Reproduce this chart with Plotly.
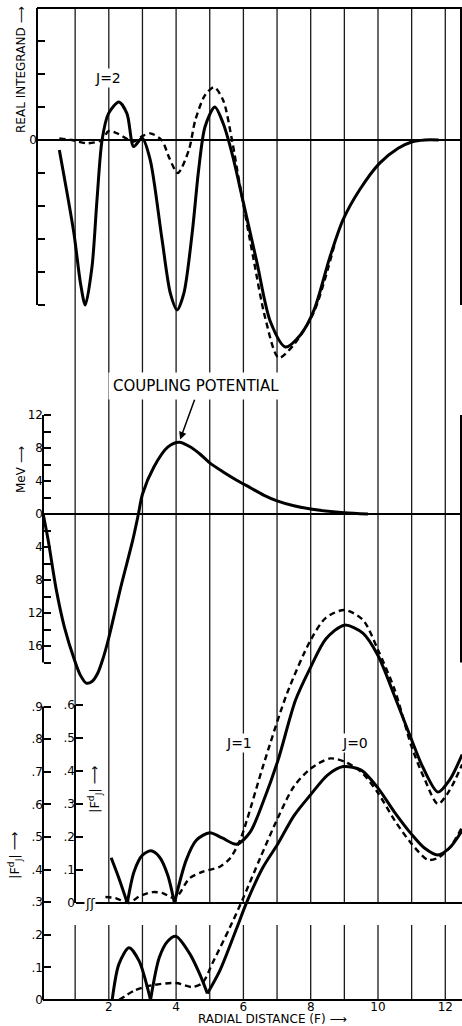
import plotly.graph_objects as go

# ---------------- data ----------------
# Top panel: real integrand, J=2 (arbitrary units, one tick = 1 unit)
top_solid_x = [0.53, 0.96, 1.16, 1.3, 1.5, 1.65, 1.8, 1.99, 2.3, 2.54, 2.74, 2.99, 3.23, 3.58,
               3.83, 4.03, 4.23, 4.48, 4.67, 4.86, 5.15, 5.4, 5.66, 6.0, 6.4, 6.8, 7.25, 7.7,
               8.1, 8.57, 8.96, 9.46, 10.05, 10.6, 11.0, 11.4, 11.8]
top_solid_y = [-0.3, -2.8, -4.35, -5.0, -3.85, -1.8, 0.0, 0.8, 1.15, 0.8, -0.2, 0.06, -0.6, -3.0,
               -4.65, -5.15, -4.65, -2.8, -0.9, 0.4, 1.0, 0.5, -0.4, -1.9, -3.7, -5.5, -6.27, -5.9,
               -5.15, -3.55, -2.42, -1.5, -0.7, -0.25, -0.06, 0.0, 0.0]
top_dash_x = [0.53, 0.9, 1.36, 1.8, 1.99, 2.25, 2.6, 2.74, 3.0, 3.23, 3.57, 3.8, 4.05, 4.38, 4.57,
              4.86, 5.13, 5.4, 5.66, 5.9, 6.3, 6.65, 7.05, 7.5, 8.1, 8.7]
top_dash_y = [0.05, 0.0, -0.1, 0.0, 0.27, 0.2, 0.0, -0.05, 0.12, 0.2, 0.0, -0.55, -1.0, -0.3, 0.6,
              1.36, 1.6, 1.2, 0.0, -1.4, -3.6, -5.4, -6.6, -6.2, -5.2, -3.2]

# Middle panel: coupling potential (MeV)
mid_x = [0.05, 0.2, 0.44, 0.68, 0.98, 1.15, 1.33, 1.5, 1.67, 1.83, 2.0, 2.36, 2.71, 2.88, 3.0,
         3.34, 3.75, 4.09, 4.44, 4.7, 5.0, 5.4, 5.8, 6.2, 6.6, 7.0, 7.5, 8.0, 9.0, 9.7]
mid_y = [0.0, -3.2, -9.2, -13.7, -17.7, -19.5, -20.5, -20.3, -19.3, -17.5, -15.0, -8.8, -3.2,
         0.0, 2.4, 5.7, 8.1, 8.7, 8.1, 7.3, 6.2, 5.1, 4.1, 3.2, 2.3, 1.6, 1.0, 0.6, 0.15, 0.0]

# Bottom panel: |F^d_J|, J=1 (inner scale) and J=0 (outer scale)
j1_solid_x = [2.07, 2.3, 2.55, None, 2.55, 2.75, 3.0, 3.25, 3.5, 3.75, 3.95, None,
              3.95, 4.3, 4.6, 5.0, 5.37, 5.8, 6.2, 6.6, 7.03, 7.55, 8.0, 8.45, 9.0, 9.55,
              10.0, 10.5, 11.0, 11.33, 11.78, 12.13, 12.5]
j1_solid_y = [0.137, 0.075, 0.0, None, 0.0, 0.095, 0.145, 0.158, 0.14, 0.085, 0.0, None,
              0.0, 0.13, 0.19, 0.213, 0.197, 0.178, 0.215, 0.31, 0.433, 0.615, 0.715, 0.80,
              0.842, 0.818, 0.75, 0.625, 0.494, 0.412, 0.336, 0.373, 0.45]
j1_dash_x = [1.9, 2.2, 2.6, 2.9, 3.3, 3.6, 3.97, 4.4, 4.8, 5.3, 5.6, 5.9, 6.1, 6.6, 7.3, 8.0,
             8.45, 9.0, 9.55, 10.0, 10.5, 11.0, 11.37, 11.78, 12.13, 12.5]
j1_dash_y = [0.018, 0.015, 0.0, 0.02, 0.033, 0.03, 0.015, 0.075, 0.095, 0.11, 0.135, 0.19,
             0.25, 0.42, 0.636, 0.797, 0.864, 0.888, 0.858, 0.767, 0.645, 0.473, 0.379, 0.30,
             0.342, 0.42]
j0_solid_x = [2.1, 2.3, 2.6, 2.9, 3.24, None, 3.24, 3.5, 3.75, 4.0, 4.4, 4.7, 4.93, None,
              4.93, 5.3, 5.8, 6.1, 6.57, 7.03, 7.5, 8.0, 8.5, 8.97, 9.5, 10.0, 10.5, 11.0,
              11.37, 11.78, 12.13, 12.5]
j0_solid_y = [0.0, 0.11, 0.16, 0.12, 0.0, None, 0.0, 0.13, 0.18, 0.195, 0.143, 0.08, 0.02, None,
              0.02, 0.09, 0.22, 0.3, 0.405, 0.48, 0.565, 0.63, 0.69, 0.716, 0.705, 0.65, 0.575,
              0.508, 0.467, 0.445, 0.467, 0.52]
j0_dash_x = [2.3, 2.78, 3.27, 4.0, 4.47, 4.78, 5.08, 5.6, 6.0, 6.5, 7.03, 7.5, 8.0, 8.58, 9.03,
             9.5, 10.0, 10.5, 11.0, 11.48, 11.78, 12.13, 12.5]
j0_dash_y = [0.0, 0.03, 0.045, 0.052, 0.04, 0.052, 0.113, 0.223, 0.314, 0.436, 0.56, 0.655,
             0.71, 0.741, 0.73, 0.70, 0.635, 0.55, 0.479, 0.43, 0.436, 0.467, 0.53]

# Axes / ticks
grid_x = [1, 2, 3, 4, 5, 6, 7, 8, 9, 10, 11, 12]
lower_xticks = [2, 4, 6, 8, 10, 12]
upper_xticks = [2, 4, 8, 10, 12]
top_ticks = [-5, -4, -3, -2, -1, 0, 1, 2, 3]
top_labelled = [0]
top_top = 4
mid_ticks = list(range(-18, 13, 2))
mid_major = [12, 8, 4, 0, -4, -8, -12, -16]
outer_ticks = [0, 0.1, 0.2, 0.3, 0.4, 0.5, 0.6, 0.7, 0.8, 0.9]
inner_ticks = [0, 0.1, 0.2, 0.3, 0.4, 0.5, 0.6]


def frac_label(v):
    return "0" if v == 0 else ("%.1f" % v)[1:]


# ---------------- geometry helpers ----------------
W, H = 462, 1026
X0_PX, X_SCALE = 41.5, 33.65
x_range = [-X0_PX / X_SCALE, (W - X0_PX) / X_SCALE]


def yr(p0, s):
    return [(p0 - H) / s, p0 / s]


def py(p):
    return 1 - p / H


def px(p):
    return p / W


FONT = "DejaVu Sans, Liberation Sans, sans-serif"
tickfont = dict(family=FONT, size=12, color="black")
INK = "black"

fig = go.Figure()
solid = dict(color=INK, width=3, shape="spline", smoothing=0.8)
dashed = dict(color=INK, width=2.4, dash="6px,4px", shape="spline", smoothing=0.8)

fig.add_trace(go.Scatter(x=top_solid_x, y=top_solid_y, mode="lines", line=solid, yaxis="y"))
fig.add_trace(go.Scatter(x=top_dash_x, y=top_dash_y, mode="lines", line=dashed, yaxis="y"))
fig.add_trace(go.Scatter(x=mid_x, y=mid_y, mode="lines", line=solid, yaxis="y3"))
fig.add_trace(go.Scatter(x=j1_solid_x, y=j1_solid_y, mode="lines", line=solid, yaxis="y6",
                         connectgaps=False))
fig.add_trace(go.Scatter(x=j1_dash_x, y=j1_dash_y, mode="lines", line=dashed, yaxis="y6"))
fig.add_trace(go.Scatter(x=j0_solid_x, y=j0_solid_y, mode="lines", line=solid, yaxis="y5",
                         connectgaps=False))
fig.add_trace(go.Scatter(x=j0_dash_x, y=j0_dash_y, mode="lines", line=dashed, yaxis="y5"))

TICK = dict(ticks="inside", ticklen=7, tickwidth=2, tickcolor=INK)
common_y = dict(showgrid=False, zeroline=False, showline=False, tickfont=tickfont,
                tickmode="array", autorange=False, domain=[0, 1], **TICK)


def minor_ticks(vals):
    return dict(tickmode="array", tickvals=vals, showgrid=False, **TICK)


R_TOP = yr(140, 33)
R_MID = yr(514, 8.25)
R_OUT = yr(1000, 326)
R_IN = yr(903, 330)

layout_axes = dict(
    xaxis=dict(domain=[0, 1], range=x_range, autorange=False, anchor="free", position=py(998),
               tickmode="array", tickvals=lower_xticks, ticktext=[str(v) for v in lower_xticks],
               ticks="", showgrid=False, zeroline=False, showline=False, tickfont=tickfont),
    xaxis2=dict(overlaying="x", range=x_range, autorange=False, anchor="free", position=py(901),
                tickmode="array", tickvals=upper_xticks, ticktext=[str(v) for v in upper_xticks],
                ticks="", showgrid=False, zeroline=False, showline=False, tickfont=tickfont),
    yaxis=dict(range=R_TOP, anchor="free", position=px(37), tickvals=top_labelled,
               ticktext=[str(v) for v in top_labelled],
               minor=minor_ticks([v for v in top_ticks if v not in top_labelled]), **common_y),
    yaxis2=dict(overlaying="y", side="right", anchor="free", position=1, range=R_TOP,
                tickvals=top_ticks, showticklabels=False, **common_y),
    yaxis3=dict(overlaying="y", anchor="free", position=px(43), range=R_MID, tickvals=mid_major,
                ticktext=[str(abs(v)) for v in mid_major],
                minor=minor_ticks([v for v in mid_ticks if v not in mid_major]), **common_y),
    yaxis4=dict(overlaying="y", side="right", anchor="free", position=1, range=R_MID,
                tickvals=mid_ticks, showticklabels=False, **common_y),
    yaxis5=dict(overlaying="y", anchor="free", position=px(43), range=R_OUT,
                tickvals=outer_ticks, ticktext=[frac_label(v) for v in outer_ticks], **common_y),
    yaxis6=dict(overlaying="y", anchor="free", position=px(75), range=R_IN,
                tickvals=inner_ticks, ticktext=[frac_label(v) for v in inner_ticks], **common_y),
    yaxis7=dict(overlaying="y", side="right", anchor="free", position=1, range=R_OUT,
                tickvals=[v for v in outer_ticks if v not in (0, 0.3)], showticklabels=False,
                **common_y),
)

shapes = []
GRID = dict(color="#1a1a1a", width=1.3)
AX = dict(color=INK, width=2)
for xv in grid_x:
    shapes.append(dict(type="line", xref="x", yref="paper", x0=xv, x1=xv, y0=py(903), y1=py(8),
                       line=GRID, layer="below"))
    shapes.append(dict(type="line", xref="x", yref="paper", x0=xv, x1=xv, y0=py(1000),
                       y1=py(925), line=GRID, layer="below"))

# top panel frame
shapes += [
    dict(type="line", xref="paper", yref="y", x0=px(37), x1=1, y0=top_top, y1=top_top, line=AX),
    dict(type="line", xref="paper", yref="y", x0=px(37), x1=px(37), y0=min(top_ticks),
         y1=top_top, line=AX),
    dict(type="line", xref="paper", yref="y", x0=px(461), x1=px(461), y0=min(top_ticks),
         y1=top_top, line=AX),
    dict(type="line", xref="paper", yref="y", x0=px(37), x1=1, y0=0, y1=0, line=AX),
]
# middle panel
shapes += [
    dict(type="line", xref="paper", yref="y3", x0=px(43), x1=px(43), y0=min(mid_ticks),
         y1=max(mid_ticks), line=AX),
    dict(type="line", xref="paper", yref="y3", x0=px(461), x1=px(461), y0=min(mid_ticks),
         y1=max(mid_ticks), line=AX),
    dict(type="line", xref="paper", yref="y3", x0=px(43), x1=1, y0=0, y1=0, line=AX),
]
# bottom panel
shapes += [
    dict(type="line", xref="paper", yref="y5", x0=px(43), x1=px(43), y0=0, y1=max(outer_ticks),
         line=AX),
    dict(type="line", xref="paper", yref="y6", x0=px(75), x1=px(75), y0=0, y1=max(inner_ticks),
         line=AX),
    dict(type="line", xref="paper", yref="y5", x0=px(43), x1=1, y0=0, y1=0, line=AX),
    dict(type="line", xref="paper", yref="y6", x0=px(77), x1=1, y0=0, y1=0, line=AX),
]

LABF = dict(family=FONT, size=14, color=INK)
CTR = dict(xanchor="center", yanchor="middle", xref="paper", yref="paper")
peak_i = mid_y.index(max(mid_y))
annotations = [
    dict(text="REAL INTEGRAND ⟶", textangle=-90, x=px(21), y=py(70), showarrow=False,
         font=dict(family=FONT, size=12, color=INK), **CTR),
    dict(text="MeV ⟶", textangle=-90, x=px(21), y=py(470), showarrow=False,
         font=dict(family=FONT, size=12, color=INK), **CTR),
    dict(text="|F<sup>d</sup><sub>J</sub>| ⟶", textangle=-90, x=px(15), y=py(855),
         showarrow=False, font=dict(family=FONT, size=13, color=INK), **CTR),
    dict(text="|F<sup>d</sup><sub>J</sub>| ⟶", textangle=-90, x=px(95), y=py(790),
         showarrow=False, font=dict(family=FONT, size=13, color=INK), **CTR),
    dict(text="J=2", x=px(108), y=py(78), showarrow=False, font=LABF, bgcolor="white",
         borderpad=1, **CTR),
    dict(text="J=1", x=px(239), y=py(743), showarrow=False, font=LABF, bgcolor="white",
         borderpad=1, **CTR),
    dict(text="J=0", x=px(355), y=py(743), showarrow=False, font=LABF, bgcolor="white",
         borderpad=1, **CTR),
    dict(text="COUPLING POTENTIAL", x=px(196), y=py(386), showarrow=False,
         font=dict(family=FONT, size=15, color=INK), bgcolor="white", borderpad=4, **CTR),
    dict(text="", xref="x", yref="y3", x=mid_x[peak_i], y=mid_y[peak_i], showarrow=True,
         ax=16, ay=-44, arrowhead=2, arrowsize=1, arrowwidth=1.5, arrowcolor=INK, standoff=3),
    dict(text="ʃʃ", x=px(90), y=py(903), showarrow=False,
         font=dict(family="DejaVu Sans", size=13, color=INK), bgcolor="white", borderpad=0,
         **CTR),
    dict(text="RADIAL DISTANCE (F) ⟶", x=px(272), y=py(1019), showarrow=False,
         font=dict(family=FONT, size=12, color=INK), **CTR),
]

fig.update_layout(
    width=W, height=H, autosize=False,
    margin=dict(l=0, r=0, t=0, b=0, pad=0),
    paper_bgcolor="white", plot_bgcolor="white",
    showlegend=False, hovermode=False,
    shapes=shapes, annotations=annotations,
    **layout_axes,
)

fig.write_html("out.html", config={"displayModeBar": False})
